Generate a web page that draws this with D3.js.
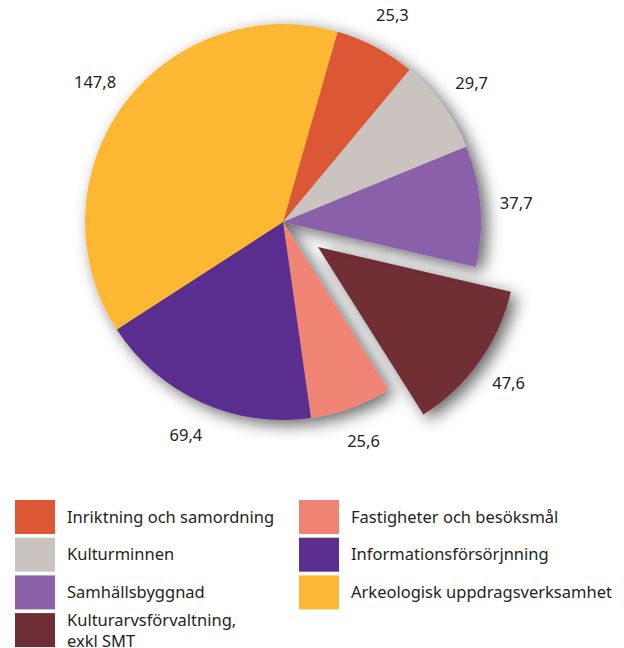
<!DOCTYPE html>
<html>
<head>
<meta charset="utf-8">
<script src="https://cdn.jsdelivr.net/npm/d3@7"></script>
<style>
  html, body { margin: 0; padding: 0; background: #fff; }
  svg { display: block; }
  text { font-family: "Noto Sans", "Open Sans", sans-serif; fill: #231f20; }
</style>
</head>
<body>
<svg id="chart" width="624" height="648"></svg>
<script>
// Budget split by activity area (values in MSEK)
const categories = [
  "Inriktning och samordning",
  "Kulturminnen",
  "Samhällsbyggnad",
  "Kulturarvsförvaltning, exkl SMT",
  "Fastigheter och besöksmål",
  "Informationsförsörjnning",
  "Arkeologisk uppdragsverksamhet"
];
const values = [25.3, 29.7, 37.7, 47.6, 25.6, 69.4, 147.8];
const valueLabels = ["25,3", "29,7", "37,7", "47,6", "25,6", "69,4", "147,8"];
const colors = ["#dc5834", "#cac3c0", "#8b61aa", "#6f2e36", "#f08474", "#5a2f8f", "#fcb833"];
const explodedIndex = 3;

// legend layout: two columns, entries listed column by column
const legendColumns = [[0, 1, 2, 3], [4, 5, 6]];

const svg = d3.select("#chart");
const cx = 283, cy = 222, radius = 198, explode = 43;

const defs = svg.append("defs");
const shadow = defs.append("filter").attr("id", "pieShadow")
  .attr("x", "-30%").attr("y", "-30%").attr("width", "160%").attr("height", "160%");
shadow.append("feDropShadow")
  .attr("dx", 6).attr("dy", 5).attr("stdDeviation", 8)
  .attr("flood-color", "#000").attr("flood-opacity", 0.6);

const startAngle = 16 * Math.PI / 180;
const pie = d3.pie().sort(null)
  .startAngle(startAngle).endAngle(startAngle + 2 * Math.PI);
const arcs = pie(values);
const arc = d3.arc().innerRadius(0).outerRadius(radius);
const labelArc = d3.arc().innerRadius(234).outerRadius(234);

const root = svg.append("g").attr("transform", `translate(${cx},${cy})`);

function offsetOf(d, i) {
  if (i !== explodedIndex) return [0, 0];
  const a = (d.startAngle + d.endAngle) / 2;
  return [Math.sin(a) * explode, -Math.cos(a) * explode];
}

// exploded slice drawn first so the main pie's shadow falls on it
const exploded = root.append("g").attr("filter", "url(#pieShadow)");
const main = root.append("g").attr("filter", "url(#pieShadow)");

arcs.forEach((d, i) => {
  const [ox, oy] = offsetOf(d, i);
  (i === explodedIndex ? exploded : main).append("path")
    .attr("d", arc(d))
    .attr("transform", `translate(${ox},${oy})`)
    .attr("fill", colors[i]);
});

// value labels
root.selectAll("text.val").data(arcs).join("text")
  .attr("class", "val")
  .attr("transform", (d, i) => {
    const [x, y] = labelArc.centroid(d);
    const [ox, oy] = offsetOf(d, i);
    return `translate(${x + ox},${y + oy})`;
  })
  .attr("text-anchor", "middle")
  .attr("dy", "0.35em")
  .attr("font-size", 16.5)
  .text((d, i) => valueLabels[i]);

// legend
const legend = svg.append("g");
const colX = [15, 299], rowY0 = 500, rowStep = 37.7, sw = 40, sh = 34;
legendColumns.forEach((col, c) => {
  col.forEach((idx, r) => {
    const g = legend.append("g").attr("transform", `translate(${colX[c]},${rowY0 + r * rowStep})`);
    g.append("rect").attr("width", sw).attr("height", sh).attr("fill", colors[idx]);
    const parts = categories[idx].split(/(?<=,) /);
    if (parts.length === 1) {
      g.append("text").attr("x", sw + 12).attr("y", 22.5)
        .attr("font-size", 16.5).text(parts[0]);
    } else {
      // wrapped entry: one text element per line
      parts.forEach((p, k) => g.append("text")
        .attr("x", sw + 12).attr("y", 12.5 + k * 21)
        .attr("font-size", 16.5).text(p));
    }
  });
});
</script>
</body>
</html>
